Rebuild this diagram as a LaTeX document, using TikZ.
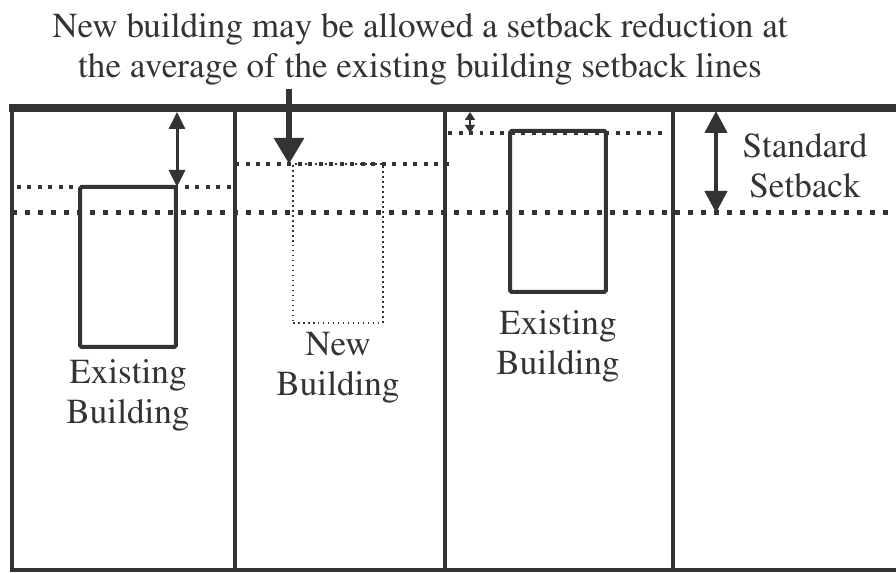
\documentclass[tikz,border=0pt]{standalone}
\usepackage[T1]{fontenc}
\renewcommand{\rmdefault}{ptm}
\usetikzlibrary{arrows.meta,positioning,calc}
\definecolor{ink}{gray}{0.2}
\tikzset{
  frontline/.style = {draw=ink, line width=0.15cm},
  lotline/.style   = {draw=ink, line width=0.09cm},
  stdline/.style   = {draw=ink, line width=0.1cm, dash pattern=on 0.11cm off 0.15cm},
  setline/.style   = {draw=ink, line width=0.07cm, dash pattern=on 0.08cm off 0.13cm},
  existing/.style  = {draw=ink, line width=0.08cm, rounded corners=1pt, outer sep=0pt,
                      anchor=north west, minimum width=1.92cm},
  newbld/.style    = {draw=ink, line width=0.03cm, dash pattern=on 0.03cm off 0.07cm,
                      outer sep=0pt, anchor=north west},
  label/.style     = {align=center, inner sep=0pt, text=ink,
                      font=\fontsize{20}{22.7}\selectfont},
  setarrow/.style  = {draw=ink, line width=0.06cm, {Triangle[length=0.34cm,width=0.32cm]}-{Triangle[length=0.34cm,width=0.32cm]}},
  smallarrow/.style= {draw=ink, line width=0.03cm, {Triangle[length=0.16cm,width=0.2cm]}-{Triangle[length=0.16cm,width=0.2cm]}},
  stdarrow/.style  = {draw=ink, line width=0.08cm, {Triangle[length=0.44cm,width=0.44cm]}-{Triangle[length=0.44cm,width=0.44cm]}},
  droparrow/.style = {draw=ink, line width=0.12cm, -{Triangle[length=0.52cm,width=0.58cm]}}
}

\begin{document}
\begin{tikzpicture}[x=0.02cm, y=-0.02cm]
\useasboundingbox (0,0) rectangle (896,573);

% heading
\node[label] (title) at (420,49) {New building may be allowed a setback reduction at\\
  the average of the existing building setback lines};

% the four lots
\draw[frontline] (9,108) -- (896,108);
\draw[lotline] (12,105) -- (12,570) -- (896,570);
\foreach \x in {235,445,673}
  \draw[lotline] (\x,108) -- (\x,570);

% standard setback, over all lots
\draw[stdline] (12,213) -- (896,213);

% setback of each building
\draw[setline] (17,187) -- (233,187);
\draw[setline] (235,164) -- (450,164);
\draw[setline] (448,133) -- (668,133);

% buildings
\node[existing, minimum height=3.2cm] (bld1) at (80,187) {};
\node[newbld, minimum width=1.8cm, minimum height=3.18cm] (newb) at (293,164) {};
\node[existing, minimum height=3.22cm] (bld3) at (510,131) {};

\node[label, below=0.25cm of bld1] (lab1) {Existing\\Building};
\node[label, below=0.19cm of newb] (lab2) {New\\Building};
\node[label, below=0.36cm of bld3] (lab3) {Existing\\Building};
\node[label] (std) at (805,166) {Standard\\Setback};

% setback distances
\coordinate (a1top) at (177,112);
\coordinate (a1bot) at (177,187);
\coordinate (a3top) at (470,112);
\coordinate (a3bot) at (470,133);
\coordinate (a4top) at (716,111);
\coordinate (a4bot) at (716,213);
\coordinate (drop)  at (289,164);

\draw[setarrow] (a1top) -- (a1bot);
\draw[smallarrow] (a3top) -- (a3bot);
\draw[stdarrow] (a4top) -- (a4bot);
\draw[droparrow] ([yshift=-0.08cm]title.south -| drop) -- (drop);
\end{tikzpicture}
\end{document}
